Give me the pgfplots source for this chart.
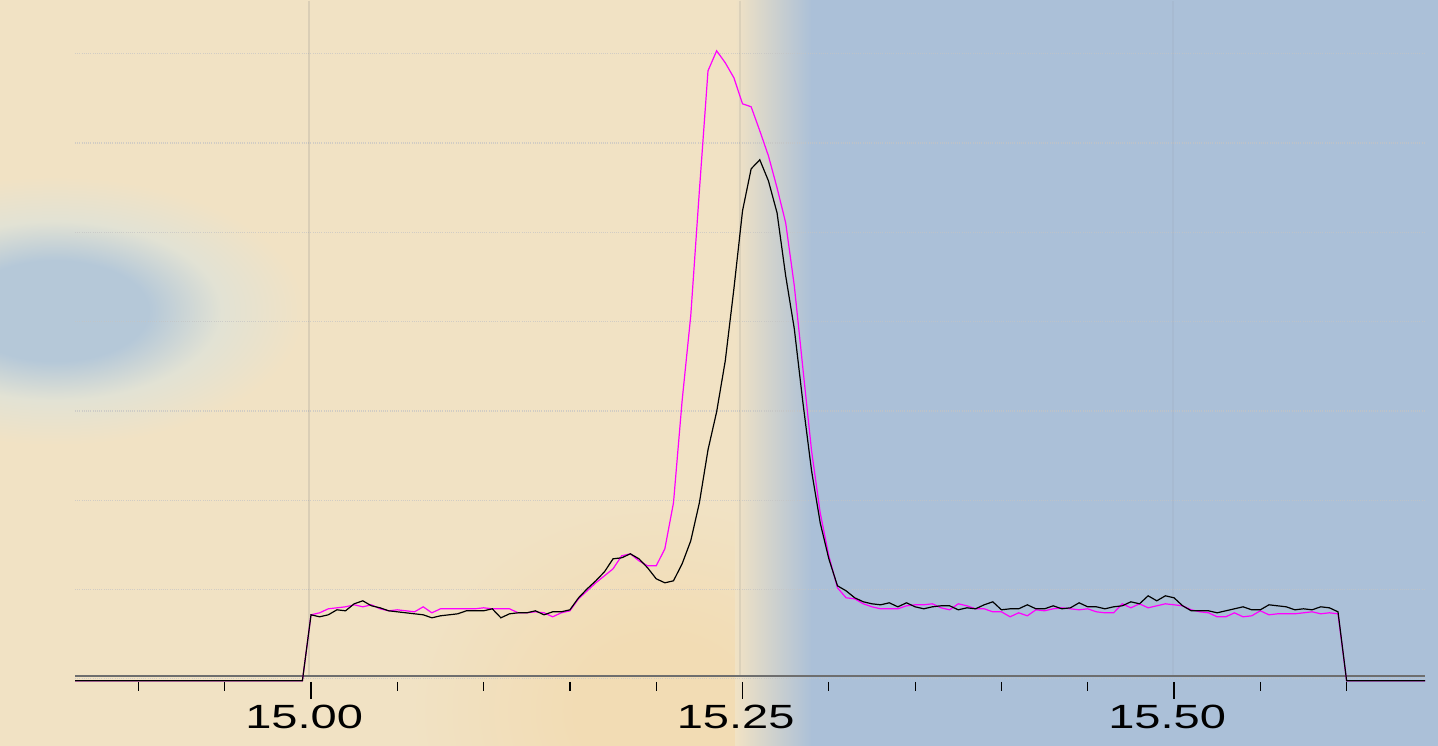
\documentclass[border=0pt]{standalone}
\usepackage{fontspec}
\setmainfont{Liberation Sans}
\usepackage{graphicx}
\usepackage{pgfplots}
\usepackage{pgfplotstable}
\pgfplotsset{compat=1.18}
\definecolor{beige}{HTML}{F1E2C4}
\definecolor{bluebg}{HTML}{ABC0D8}
\definecolor{blob}{HTML}{B5C8D8}
\definecolor{halo}{HTML}{E2E2D4}
\definecolor{orangebg}{HTML}{F2DCB4}
\definecolor{gridc}{HTML}{C4C4C4}
\definecolor{axisc}{HTML}{6E6E6E}
\pgfdeclareradialshading{blobshade}{\pgfpoint{0bp}{0bp}}{color(0bp)=(blob); color(9bp)=(blob); color(16bp)=(halo); color(24bp)=(beige); color(50bp)=(beige)}
\pgfdeclareradialshading{orangeshade}{\pgfpoint{0bp}{0bp}}{color(0bp)=(orangebg); color(8bp)=(orangebg); color(24bp)=(beige); color(50bp)=(beige)}

\pgfplotstableread{
x black magenta
14.8633 -2 -2
14.995 -2 -2
15.000 64 64
15.005 62 66
15.010 64 70
15.015 69 71
15.020 68 72
15.025 75 74
15.030 78 72
15.035 73 74
15.040 71 70
15.045 68 68
15.050 67 69
15.055 66 68
15.060 65 67
15.065 64 72
15.070 61 66
15.075 63 70
15.080 64 70
15.085 65 70
15.090 68 70
15.095 68 70
15.100 68 71
15.105 70 70
15.110 61 70
15.115 65 70
15.120 66 66
15.125 66 66
15.130 68 67
15.135 64 66
15.140 67 62
15.145 67 66
15.150 69 68
15.155 81 80
15.160 90 88
15.165 98 96
15.170 107 103
15.175 120 110
15.180 121 123
15.185 125 125
15.190 120 118
15.195 111 113
15.200 100 113
15.205 96 130
15.210 98 176
15.215 115 278
15.220 138 363
15.225 176 488
15.230 229 608
15.235 267 628
15.240 318 616
15.245 390 601
15.250 468 575
15.255 510 572
15.260 519 548
15.265 498 523
15.270 466 491
15.275 403 456
15.280 350 393
15.285 276 310
15.290 208 228
15.295 156 166
15.300 120 123
15.305 93 91
15.310 88 81
15.315 81 80
15.320 77 75
15.325 75 72
15.330 74 70
15.335 76 70
15.340 72 70
15.345 76 73
15.350 72 74
15.355 70 74
15.360 72 75
15.365 73 71
15.370 73 69
15.375 69 75
15.380 71 73
15.385 70 70
15.390 74 70
15.395 77 67
15.400 69 67
15.405 70 62
15.410 70 66
15.415 74 63
15.420 70 69
15.425 70 68
15.430 73 70
15.435 70 71
15.440 71 70
15.445 76 69
15.450 72 70
15.455 72 67
15.460 70 66
15.465 72 66
15.470 73 75
15.475 77 71
15.480 75 75
15.485 83 71
15.490 78 73
15.495 83 75
15.500 81 74
15.505 73 73
15.510 68 69
15.515 68 67
15.520 68 66
15.525 66 62
15.530 68 62
15.535 70 66
15.540 72 62
15.545 69 63
15.550 69 68
15.555 74 64
15.560 73 65
15.565 72 65
15.570 69 65
15.575 70 66
15.580 69 67
15.585 72 65
15.590 71 66
15.595 67 65
15.600 -2 -2
15.6455 -2 -2
}\datatable

\begin{document}
\begin{tikzpicture}
% background (pixel coordinates, y downwards)
\begin{scope}[x=0.5pt,y=-0.5pt,shift={(0pt,372.5pt)}]
  \clip (0,0) rectangle (1438,745);
  \fill[beige] (-10,-10) rectangle (1448,755);
  \shade[shading=orangeshade] (660,710) ellipse [x radius=260,y radius=220];
  \shade[shading=blobshade] (55,310) ellipse [x radius=260,y radius=140];
  \shade[left color=beige,right color=bluebg] (735,-10) rectangle (812,755);
  \fill[bluebg] (811,-10) rectangle (1448,755);
\end{scope}
\begin{axis}[
  scale only axis,
  width=719pt, height=372.5pt,
  xmin=14.8198, xmax=15.65294,
  ymin=-67, ymax=678,
  axis lines=none,
  clip=false,
]
% horizontal dotted gridlines
\pgfplotsinvokeforeach{0,89.3,178.6,267.9,357.2,446.5,535.8,625.1}{
  \draw[gridc,opacity=0.7,line width=0.6pt,dash pattern=on 0.5pt off 0.6pt] (axis cs:14.8633,#1) -- (axis cs:15.6455,#1);
}
% vertical gridlines
\draw[gray,opacity=0.2,line width=0.8pt] (axis cs:14.99883,678) -- (axis cs:14.99883,3);
\draw[gray,opacity=0.15,line width=0.8pt] (axis cs:15.24853,678) -- (axis cs:15.24853,3);
\draw[gray,opacity=0.08,line width=0.8pt] (axis cs:15.4994,678) -- (axis cs:15.4994,3);
% axis line
\draw[axisc,line width=0.9pt] (axis cs:14.8633,3) -- (axis cs:15.6455,3);
% major ticks
\pgfplotsinvokeforeach{15,15.25,15.5}{
  \draw[black,line width=0.6pt] (axis cs:#1,-3) -- (axis cs:#1,-20);
}
% minor ticks
\pgfplotsinvokeforeach{14.9,14.95,15.05,15.1,15.15,15.2,15.3,15.35,15.4,15.45,15.55,15.6}{
  \draw[black,line width=0.6pt] (axis cs:#1,-3) -- (axis cs:#1,-12);
}
% tick labels
\pgfplotsinvokeforeach{15.00,15.25,15.50}{
  \node[inner sep=0pt,font=\fontsize{16.8}{18}\selectfont] at (axis cs:#1-0.004,-38) {\scalebox{1.4}[1]{#1}};
}
\addplot[color={rgb,255:red,255;green,0;blue,255},line width=0.6pt] table[x=x,y=magenta] {\datatable};
\addplot[black,line width=0.6pt] table[x=x,y=black] {\datatable};
\end{axis}
\end{tikzpicture}
\end{document}
